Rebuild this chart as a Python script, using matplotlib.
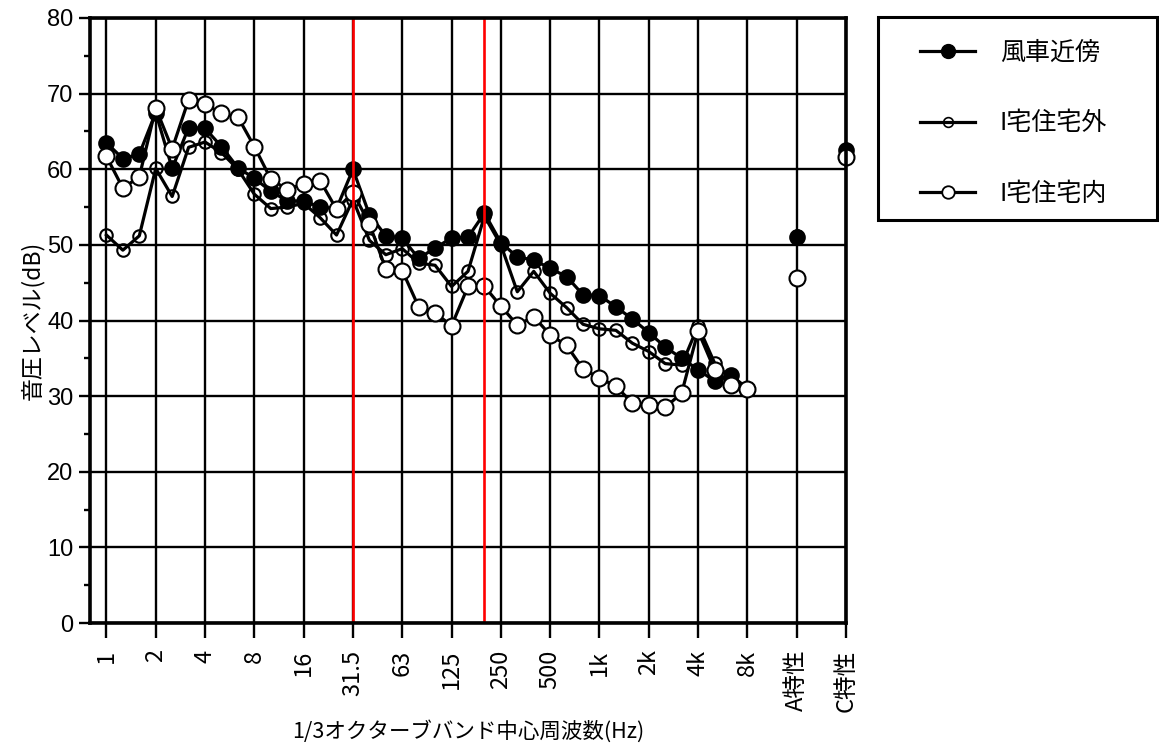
import matplotlib
matplotlib.use("Agg")
import matplotlib.pyplot as plt
from matplotlib.lines import Line2D
from matplotlib.patches import Rectangle
import numpy as np

plt.rcParams['font.family'] = ['Noto Sans CJK JP', 'DejaVu Sans']

# 1/3 octave band centre frequencies (1 Hz .. 8 kHz)
bands = ["1", "1.25", "1.6", "2", "2.5", "3.15", "4", "5", "6.3", "8", "10", "12.5",
         "16", "20", "25", "31.5", "40", "50", "63", "80", "100", "125", "160", "200",
         "250", "315", "400", "500", "630", "800", "1k", "1.25k", "1.6k", "2k", "2.5k",
         "3.15k", "4k", "5k", "6.3k", "8k"]
tick_labels = ["1", "2", "4", "8", "16", "31.5", "63", "125", "250", "500",
               "1k", "2k", "4k", "8k", "A特性", "C特性"]
weight_labels = ["A特性", "C特性"]

series_names = ["風車近傍", "I宅住宅外", "I宅住宅内"]

windmill = [63.5, 61.4, 62.0, 67.5, 60.1, 65.5, 65.4, 63.0, 60.2, 58.8,
            57.1, 55.8, 55.8, 55.0, 54.8, 60.0, 54.0, 51.2, 50.9, 48.2,
            49.6, 50.9, 51.0, 54.2, 50.3, 48.4, 48.0, 46.9, 45.8, 43.4,
            43.3, 41.8, 40.2, 38.4, 36.5, 35.0, 33.5, 32.0, 32.8, 31.0]
outside = [51.3, 49.3, 51.2, 60.1, 56.4, 62.9, 63.6, 62.2, 60.0, 56.7,
           54.8, 55.0, 55.5, 53.6, 51.3, 56.0, 50.6, 48.7, 49.5, 47.6,
           47.3, 44.5, 46.5, 53.8, 50.0, 43.8, 46.5, 43.6, 41.7, 39.5,
           38.9, 38.7, 37.0, 35.9, 34.3, 34.1, 39.3, 34.4, 32.3, 30.9]
inside = [61.7, 57.5, 59.0, 68.1, 62.7, 69.2, 68.6, 67.4, 66.9, 63.0,
          58.7, 57.3, 58.1, 58.5, 54.7, 56.9, 52.8, 46.8, 46.6, 41.8,
          41.0, 39.3, 44.5, 44.5, 41.9, 39.4, 40.5, 38.1, 36.7, 33.6,
          32.4, 31.3, 29.1, 28.8, 28.5, 30.4, 38.6, 33.5, 31.5, 30.9]

windmill_AC = [51.0, 62.5]
outside_AC = [51.2, 62.2]
inside_AC = [45.6, 61.6]

red_band_labels = ["31.5", "200"]

W, H = 1159, 755
fig = plt.figure(figsize=(W / 100, H / 100), dpi=100)
ax = fig.add_axes([90 / W, 1 - 623 / H, (846 - 90) / W, (623 - 18) / H])

x = np.arange(len(bands))
n = len(bands)
x_ac = np.array([n + 2, n + 5])

lw = 2.3
# outside (small hollow markers), bottom
ax.plot(x, outside, color='black', lw=lw, marker='o', ms=9, mfc='none',
        mec='black', mew=1.5, zorder=3)
ax.plot(x_ac, outside_AC, ls='none', marker='o', ms=9, mfc='none',
        mec='black', mew=1.5, zorder=3, clip_on=False)
# windmill (filled)
ax.plot(x, windmill, color='black', lw=lw, marker='o', ms=10.5, mfc='black',
        mec='black', mew=1.5, zorder=4)
ax.plot(x_ac, windmill_AC, ls='none', marker='o', ms=10.5, mfc='black',
        mec='black', mew=1.5, zorder=4, clip_on=False)
# inside (white-filled markers), top
ax.plot(x, inside, color='black', lw=lw, marker='o', ms=11.5, mfc='white',
        mec='black', mew=1.5, zorder=5)
ax.plot(x_ac, inside_AC, ls='none', marker='o', ms=11.5, mfc='white',
        mec='black', mew=1.5, zorder=5, clip_on=False)

for lab in red_band_labels:
    ax.axvline(bands.index(lab), color='#ff0000', lw=1.9, zorder=6)

ax.set_xlim(-1, n + 5)
ax.set_ylim(0, 80)

tick_pos = list(range(0, n, 3)) + list(x_ac)
ax.set_xticks(tick_pos)
ax.set_xticklabels(tick_labels, rotation=90, fontsize=17)
ax.set_yticks(np.arange(0, 81, 10))
ax.set_yticks(np.arange(5, 80, 10), minor=True)
for t in ax.get_yticklabels():
    t.set_fontfamily('Liberation Sans')
    t.set_fontsize(17)

ax.tick_params(axis='x', direction='out', length=11, width=1.7, pad=8)
ax.tick_params(axis='y', which='major', direction='out', length=8, width=1.7, pad=4)
ax.tick_params(axis='y', which='minor', direction='out', length=4, width=1.7)

ax.grid(True, which='major', color='black', lw=1.7, zorder=1)
ax.set_axisbelow(True)
for s in ax.spines.values():
    s.set_linewidth(2.6)
    s.set_zorder(7)

ax.set_xlabel("1/3オクターブバンド中心周波数(Hz)", fontsize=15.5, labelpad=6)
ax.set_ylabel("音圧レベル(dB)", fontsize=16.5, labelpad=2)

# legend
handles = [
    Line2D([], [], color='black', lw=lw, marker='o', ms=10, mfc='black', mec='black'),
    Line2D([], [], color='black', lw=lw, marker='o', ms=7, mfc='none', mec='black', mew=1.2),
    Line2D([], [], color='black', lw=lw, marker='o', ms=9, mfc='white', mec='black', mew=1.3),
]
fig.patches.append(Rectangle((878 / W, 1 - 220 / H), (1157 - 878) / W, (220 - 17) / H,
                             transform=fig.transFigure, fill=False, ec='black', lw=2.2))
fig.legend(handles, series_names, loc='upper left',
           bbox_to_anchor=(920 / W, 1 - 40 / H), frameon=False, borderpad=0,
           borderaxespad=0, fontsize=18, handlelength=2.2, handletextpad=1.0,
           labelspacing=1.78)

fig.savefig("out.png", dpi=100)
